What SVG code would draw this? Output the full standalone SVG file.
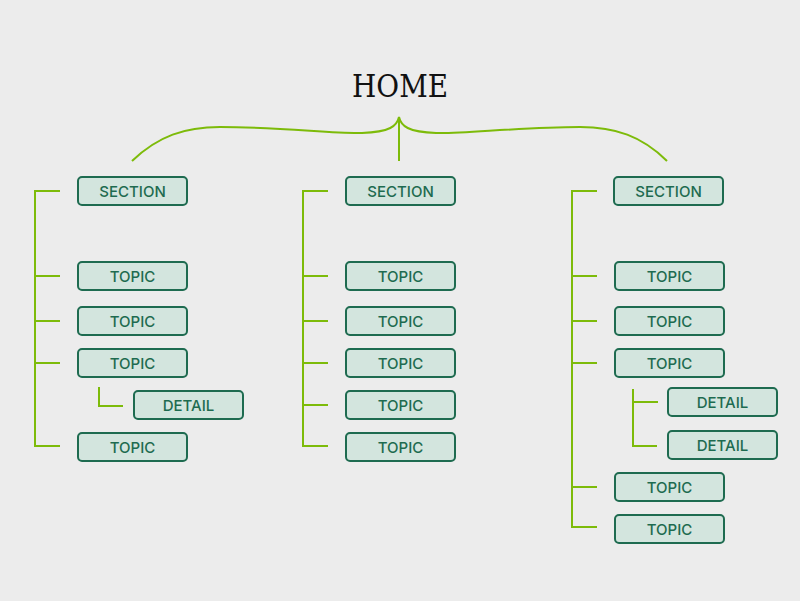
<svg xmlns="http://www.w3.org/2000/svg" width="800" height="601" viewBox="0 0 800 601">
<style>
.bg{fill:#ececec}
.ln{fill:none;stroke:#7dbb0a;stroke-width:2}
.box rect{fill:#d3e5de;stroke:#1e6b50;stroke-width:2}
.box text{font-family:Inter,"Liberation Sans",sans-serif;font-size:15px;font-weight:500;fill:#1e6b50;text-anchor:middle}
.title{font-family:"DejaVu Serif",serif;font-size:31px;fill:#111;text-anchor:middle}
</style>
<rect class="bg" width="800" height="601"/>
<text class="title" x="400" y="97" textLength="96" lengthAdjust="spacingAndGlyphs">HOME</text>
<g id="connectors">
<path class="ln" d="M132,161 C158,136 185,127 220,127 C280,127 335,134 362,133 C390,132 397,126 399,117 C401,126 408,132 436,133 C463,134 520,127 580,127 C615,127 642,136 667,161"/>
<path class="ln" d="M399,117 V161"/>
<path class="ln" d="M60,191 H35 V446 H60 M35,276 H60 M35,321 H60 M35,363 H60"/>
<path class="ln" d="M99,387 V406 H123"/>
<path class="ln" d="M328,191 H303 V446 H328 M303,276 H328 M303,321 H328 M303,363 H328 M303,405 H328"/>
<path class="ln" d="M597,191 H572 V527 H597 M572,276 H597 M572,321 H597 M572,363 H597 M572,487 H597"/>
<path class="ln" d="M633,389 V446 H657 M633,402 H658"/>
</g>
<g id="c1-section" class="box"><rect x="78" y="177" width="109" height="28" rx="4"/><text x="132.5" y="196.5">SECTION</text></g>
<g id="c1-topic1" class="box"><rect x="78" y="262" width="109" height="28" rx="4"/><text x="132.5" y="281.5">TOPIC</text></g>
<g id="c1-topic2" class="box"><rect x="78" y="307" width="109" height="28" rx="4"/><text x="132.5" y="326.5">TOPIC</text></g>
<g id="c1-topic3" class="box"><rect x="78" y="349" width="109" height="28" rx="4"/><text x="132.5" y="368.5">TOPIC</text></g>
<g id="c1-detail1" class="box"><rect x="134" y="391" width="109" height="28" rx="4"/><text x="188.5" y="410.5">DETAIL</text></g>
<g id="c1-topic4" class="box"><rect x="78" y="433" width="109" height="28" rx="4"/><text x="132.5" y="452.5">TOPIC</text></g>
<g id="c2-section" class="box"><rect x="346" y="177" width="109" height="28" rx="4"/><text x="400.5" y="196.5">SECTION</text></g>
<g id="c2-topic1" class="box"><rect x="346" y="262" width="109" height="28" rx="4"/><text x="400.5" y="281.5">TOPIC</text></g>
<g id="c2-topic2" class="box"><rect x="346" y="307" width="109" height="28" rx="4"/><text x="400.5" y="326.5">TOPIC</text></g>
<g id="c2-topic3" class="box"><rect x="346" y="349" width="109" height="28" rx="4"/><text x="400.5" y="368.5">TOPIC</text></g>
<g id="c2-topic4" class="box"><rect x="346" y="391" width="109" height="28" rx="4"/><text x="400.5" y="410.5">TOPIC</text></g>
<g id="c2-topic5" class="box"><rect x="346" y="433" width="109" height="28" rx="4"/><text x="400.5" y="452.5">TOPIC</text></g>
<g id="c3-section" class="box"><rect x="614" y="177" width="109" height="28" rx="4"/><text x="668.5" y="196.5">SECTION</text></g>
<g id="c3-topic1" class="box"><rect x="615" y="262" width="109" height="28" rx="4"/><text x="669.5" y="281.5">TOPIC</text></g>
<g id="c3-topic2" class="box"><rect x="615" y="307" width="109" height="28" rx="4"/><text x="669.5" y="326.5">TOPIC</text></g>
<g id="c3-topic3" class="box"><rect x="615" y="349" width="109" height="28" rx="4"/><text x="669.5" y="368.5">TOPIC</text></g>
<g id="c3-detail1" class="box"><rect x="668" y="388" width="109" height="28" rx="4"/><text x="722.5" y="407.5">DETAIL</text></g>
<g id="c3-detail2" class="box"><rect x="668" y="431" width="109" height="28" rx="4"/><text x="722.5" y="450.5">DETAIL</text></g>
<g id="c3-topic4" class="box"><rect x="615" y="473" width="109" height="28" rx="4"/><text x="669.5" y="492.5">TOPIC</text></g>
<g id="c3-topic5" class="box"><rect x="615" y="515" width="109" height="28" rx="4"/><text x="669.5" y="534.5">TOPIC</text></g>
</svg>
